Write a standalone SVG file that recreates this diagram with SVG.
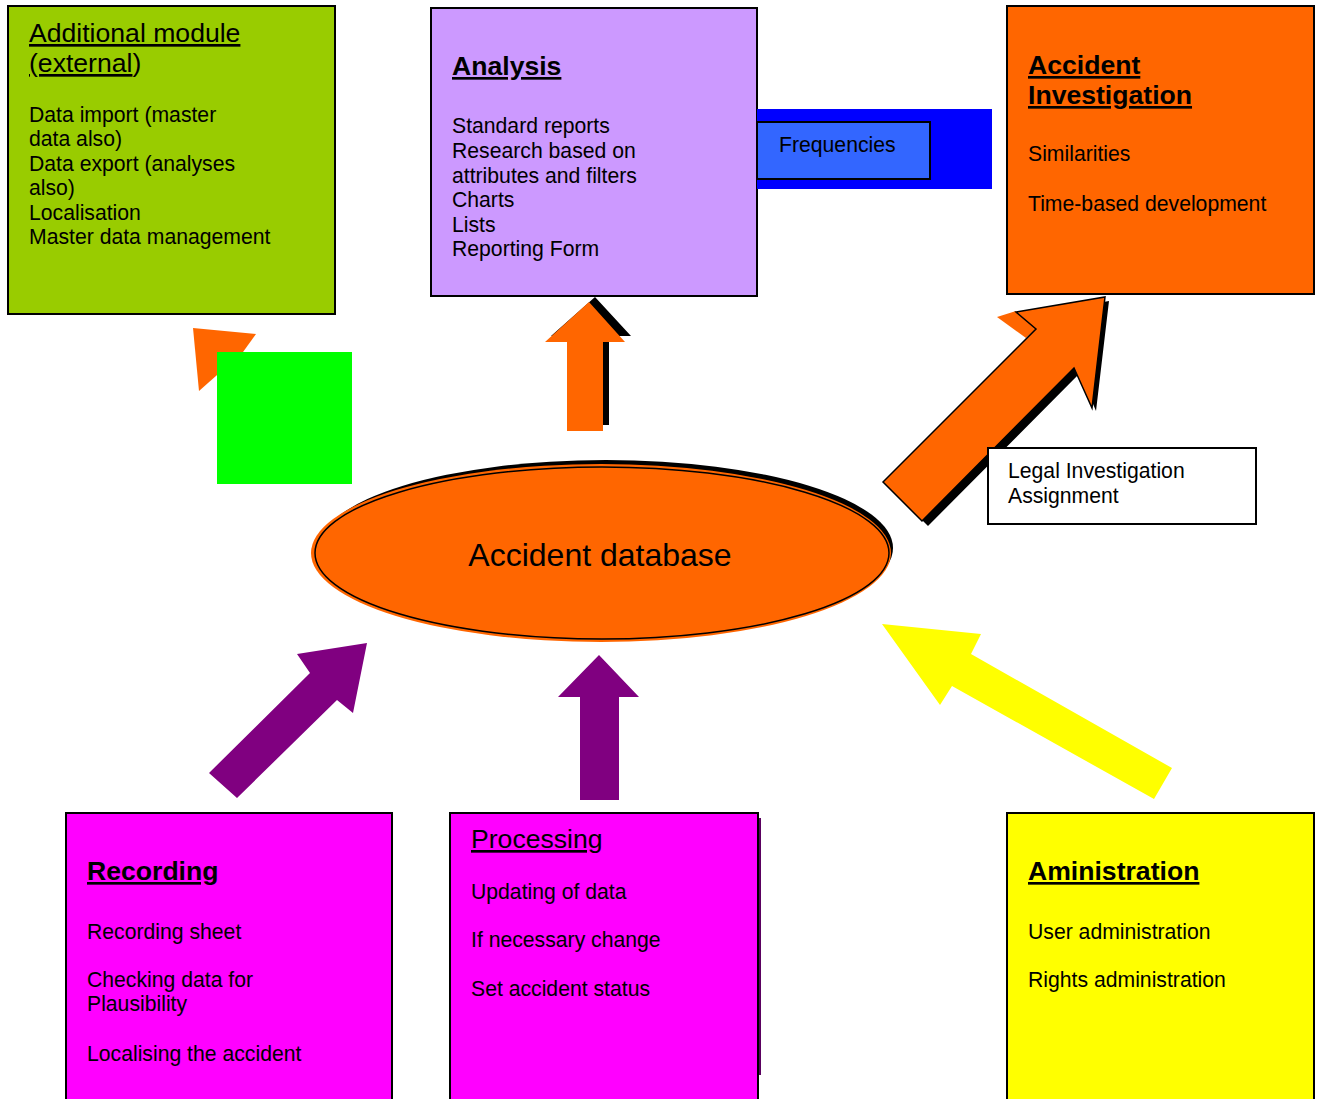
<svg xmlns="http://www.w3.org/2000/svg" width="1320" height="1099" viewBox="0 0 1320 1099">
<style>
  text { font-family: "Liberation Sans", Arial, sans-serif; fill: #000; }
  .body { font-size: 21.2px; }
  .title { font-size: 26.6px; text-decoration: underline; }
  .btitle { font-size: 26.6px; font-weight: bold; text-decoration: underline; }
  .box { stroke: #000; stroke-width: 2; }
</style>
<rect width="1320" height="1099" fill="#fff"/>

<g id="connectors">
  <g id="arrow-additional">
    <polygon points="236,356 222,369 300,447 314,433" fill="#FF6600"/>
    <polygon points="193,328 256,334 243,352 199,391" fill="#FF6600"/>
    <rect id="green-square" x="217" y="352" width="135" height="132" fill="#00FF00"/>
  </g>
  <g id="arrow-analysis">
    <polygon points="595,297 631,336 609,336 609,425 573,425 573,336 551,336" fill="#000"/>
    <polygon points="589,302 625,342 603,342 603,431 567,431 567,342 545,342" fill="#FF6600"/>
  </g>
  <g id="arrow-investigation">
    <polygon points="889,487 1042,334 1022,317 1109,301 1096,411 1080,373 928,526" fill="#000"/>
    <polygon points="997,317 1016,311 1036,329 1026,338" fill="#FF6600"/>
    <polygon points="883,482 1036,329 1016,312 1105,297 1092,408 1074,368 922,521" fill="#FF6600" stroke="#000" stroke-width="1.5"/>
  </g>
  <polygon id="arrow-recording" points="209,773 310,673 297,654 367,643 353,713 337,700 237,798" fill="#800080"/>
  <polygon id="arrow-processing" points="599,655 639,697 619,697 619,800 580,800 580,697 558,697" fill="#800080"/>
  <polygon id="arrow-administration" points="882,624 981,634 971,654 1172,768 1154,799 952,686 940,705" fill="#FFFF00"/>
</g>

<g id="node-additional">
  <rect class="box" x="8" y="6" width="327" height="308" fill="#99CC00"/>
  <text class="title" x="29" y="42">Additional module</text>
  <text style="font-size:26.6px" x="29" y="72"><tspan style="text-decoration:underline">(external</tspan>)</text>
  <text class="body" x="29" y="122">Data import (master</text>
  <text class="body" x="29" y="146">data also)</text>
  <text class="body" x="29" y="171">Data export (analyses</text>
  <text class="body" x="29" y="195">also)</text>
  <text class="body" x="29" y="220">Localisation</text>
  <text class="body" x="29" y="244">Master data management</text>
</g>

<g id="node-analysis">
  <rect class="box" x="431" y="8" width="326" height="288" fill="#CC99FF"/>
  <text class="btitle" x="452" y="75">Analysis</text>
  <text class="body" x="452" y="133">Standard reports</text>
  <text class="body" x="452" y="158">Research based on</text>
  <text class="body" x="452" y="183">attributes and filters</text>
  <text class="body" x="452" y="207">Charts</text>
  <text class="body" x="452" y="232">Lists</text>
  <text class="body" x="452" y="256">Reporting Form</text>
</g>

<g id="node-frequencies">
  <rect x="757" y="109" width="235" height="80" fill="#0000FF"/>
  <rect x="757" y="122" width="173" height="57" fill="#3366FF" stroke="#000" stroke-width="2"/>
  <text class="body" x="779" y="152">Frequencies</text>
</g>

<g id="node-investigation">
  <rect class="box" x="1007" y="6" width="307" height="288" fill="#FF6600"/>
  <text class="btitle" x="1028" y="74">Accident</text>
  <text class="btitle" x="1028" y="104">Investigation</text>
  <text class="body" x="1028" y="161">Similarities</text>
  <text class="body" x="1028" y="211">Time-based development</text>
</g>

<g id="node-legal">
  <rect x="988" y="448" width="268" height="76" fill="#fff" stroke="#000" stroke-width="2"/>
  <text class="body" x="1008" y="478">Legal Investigation</text>
  <text class="body" x="1008" y="503">Assignment</text>
</g>

<g id="node-database">
  <ellipse cx="606" cy="548" rx="287" ry="88" fill="#000"/>
  <ellipse cx="601" cy="553" rx="290" ry="89" fill="#FF6600"/>
  <ellipse cx="602" cy="553" rx="287" ry="86" fill="none" stroke="#000" stroke-width="1.5"/>
  <text x="600" y="566" text-anchor="middle" style="font-size:32px">Accident database</text>
</g>

<g id="node-recording">
  <rect class="box" x="66" y="813" width="326" height="300" fill="#FF00FF"/>
  <text class="btitle" x="87" y="880">Recording</text>
  <text class="body" x="87" y="939">Recording sheet</text>
  <text class="body" x="87" y="987">Checking data for</text>
  <text class="body" x="87" y="1011">Plausibility</text>
  <text class="body" x="87" y="1061">Localising the accident</text>
</g>

<g id="node-processing">
  <line x1="760" y1="818" x2="760" y2="1075" stroke="#5a0060" stroke-width="2"/>
  <rect class="box" x="450" y="813" width="308" height="300" fill="#FF00FF"/>
  <text class="title" x="471" y="848">Processing</text>
  <text class="body" x="471" y="899">Updating of data</text>
  <text class="body" x="471" y="947">If necessary change</text>
  <text class="body" x="471" y="996">Set accident status</text>
</g>

<g id="node-administration">
  <rect class="box" x="1007" y="813" width="307" height="300" fill="#FFFF00"/>
  <text class="btitle" x="1028" y="880">Aministration</text>
  <text class="body" x="1028" y="939">User administration</text>
  <text class="body" x="1028" y="987">Rights administration</text>
</g>
</svg>
